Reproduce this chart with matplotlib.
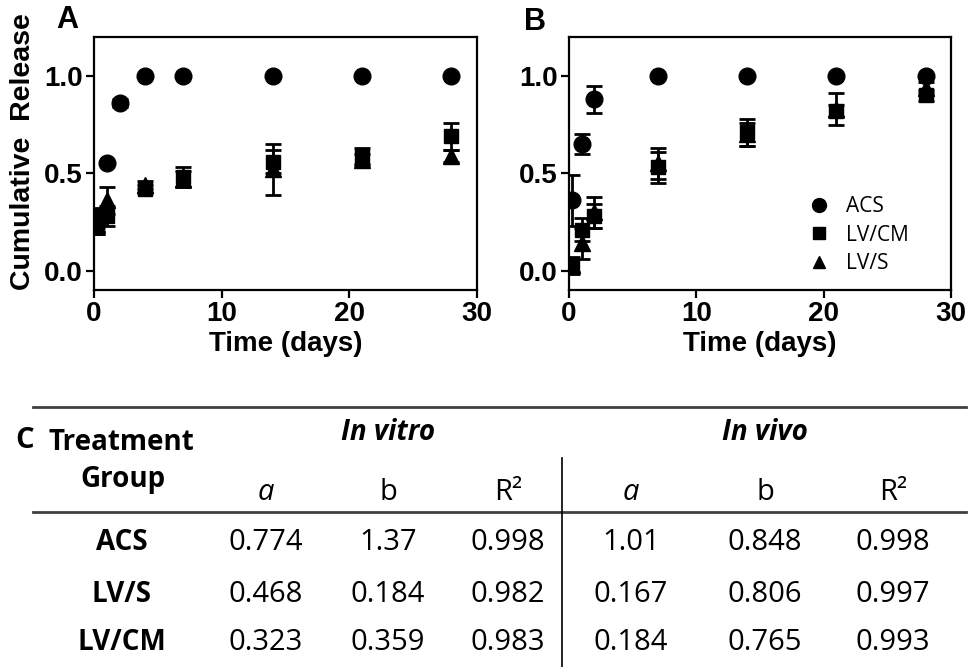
import numpy as np
import matplotlib.pyplot as plt
from matplotlib.lines import Line2D

# panel A (in vitro)
t_a = [0.25, 1, 2, 4, 7, 14, 21, 28]
acs_a = [0.25, 0.55, 0.86, 1.0, 1.0, 1.0, 1.0, 1.0]
acs_a_err = [0.06, 0.0, 0.02, 0.0, 0.0, 0.0, 0.0, 0.0]
lvcm_a = [0.27, 0.28, np.nan, 0.42, 0.48, 0.56, 0.59, 0.69]
lvcm_a_err = [0.05, 0.05, np.nan, 0.02, 0.05, 0.06, 0.04, 0.07]
lvs_a = [0.24, 0.36, np.nan, 0.44, 0.47, 0.52, 0.57, 0.59]
lvs_a_err = [0.05, 0.07, np.nan, 0.02, 0.04, 0.13, 0.03, 0.03]

# panel B (in vivo)
t_b = [0.25, 1, 2, 7, 14, 21, 28]
acs_b = [0.36, 0.65, 0.88, 1.0, 1.0, 1.0, 1.0]
acs_b_err = [0.13, 0.05, 0.07, 0.0, 0.0, 0.0, 0.0]
lvcm_b = [0.02, 0.21, 0.28, 0.53, 0.71, 0.82, 0.90]
lvcm_b_err = [0.04, 0.06, 0.06, 0.08, 0.07, 0.03, 0.03]
lvs_b = [0.03, 0.14, 0.30, 0.55, 0.70, 0.83, 0.94]
lvs_b_err = [0.04, 0.08, 0.08, 0.08, 0.06, 0.08, 0.03]

# table C
groups = ["ACS", "LV/S", "LV/CM"]
vitro_a = ["0.774", "0.468", "0.323"]
vitro_b = ["1.37", "0.184", "0.359"]
vitro_r2 = ["0.998", "0.982", "0.983"]
vivo_a = ["1.01", "0.167", "0.184"]
vivo_b = ["0.848", "0.806", "0.765"]
vivo_r2 = ["0.998", "0.997", "0.993"]

W, H = 969, 667
fig = plt.figure(figsize=(W / 100, H / 100), dpi=100)
plt.rcParams['font.family'] = ['Liberation Sans', 'DejaVu Sans']

def fx(px):
    return px / W

def fy(py):
    return 1 - py / H

def draw_panel(ax, t, series):
    for y, err, marker, ms, label in series:
        ax.errorbar(t, y, yerr=err, fmt='none', ecolor='black', elinewidth=2,
                    capsize=6, capthick=2)
        ax.plot(t, y, linestyle='none', marker=marker, color='black',
                markersize=ms, label=label)
    ax.set_xlim(0, 30)
    ax.set_ylim(-0.1, 1.2)
    ax.set_xticks([0, 10, 20, 30])
    ax.set_yticks([0.0, 0.5, 1.0])
    ax.set_yticklabels(["0.0", "0.5", "1.0"])
    ax.tick_params(width=1.6, length=6, labelsize=20, pad=2)
    for lab in ax.get_xticklabels() + ax.get_yticklabels():
        lab.set_fontweight('bold')
    for s in ax.spines.values():
        s.set_linewidth(1.6)
    ax.set_xlabel("Time (days)", fontsize=20, fontweight='bold', labelpad=3)

ax_a = fig.add_axes([fx(94), fy(290), fx(477 - 94), (290 - 37) / H])
draw_panel(ax_a, t_a, [(acs_a, acs_a_err, 'o', 12, "ACS"),
                       (lvcm_a, lvcm_a_err, 's', 10.5, "LV/CM"),
                       (lvs_a, lvs_a_err, '^', 11, "LV/S")])

ax_b = fig.add_axes([fx(569), fy(290), fx(951 - 569), (290 - 37) / H])
draw_panel(ax_b, t_b, [(acs_b, acs_b_err, 'o', 12, "ACS"),
                       (lvcm_b, lvcm_b_err, 's', 10.5, "LV/CM"),
                       (lvs_b, lvs_b_err, '^', 11, "LV/S")])

handles = [Line2D([], [], linestyle='none', marker='o', color='black', markersize=10),
           Line2D([], [], linestyle='none', marker='s', color='black', markersize=9),
           Line2D([], [], linestyle='none', marker='^', color='black', markersize=9)]
ax_b.legend(handles, ["ACS", "LV/CM", "LV/S"], loc='upper left',
            bbox_to_anchor=(fx(788), fy(186)), bbox_transform=fig.transFigure,
            frameon=False, handletextpad=0.3, labelspacing=0.35, borderpad=0,
            prop={'family': 'Open Sans', 'size': 15})

fig.text(fx(23), fy(152), "Cumulative  Release", rotation=90, ha='center',
         va='center', fontsize=20.5, fontweight='bold')
fig.text(fx(67), fy(20), "A", ha='center', va='center', fontsize=22, fontweight='bold')
fig.text(fx(535), fy(22), "B", ha='center', va='center', fontsize=22, fontweight='bold')

# table
tf = ['Open Sans', 'DejaVu Sans']
fig.add_artist(Line2D([fx(33), fx(966)], [fy(407), fy(407)], color='#404040', lw=2))
fig.add_artist(Line2D([fx(33), fx(966)], [fy(512), fy(512)], color='#404040', lw=2))
fig.add_artist(Line2D([fx(562), fx(562)], [fy(458), fy(667)], color='black', lw=1.2))

fig.text(fx(25), fy(440), "C", ha='center', va='center', fontsize=21,
         fontweight='bold', family=tf)
fig.text(fx(121), fy(442), "Treatment", ha='center', va='center', fontsize=20,
         fontweight='bold', family=tf)
fig.text(fx(123), fy(480), "Group", ha='center', va='center', fontsize=20,
         fontweight='bold', family=tf)
fig.text(fx(388), fy(433), "In vitro", ha='center', va='center', fontsize=20,
         fontweight='bold', style='italic', family=tf)
fig.text(fx(765), fy(433), "In vivo", ha='center', va='center', fontsize=20,
         fontweight='bold', style='italic', family=tf)

col_x = [266, 388, 508, 631, 765, 893]
headers = ["a", "b", "R²", "a", "b", "R²"]
for x, h in zip(col_x, headers):
    fig.text(fx(x), fy(492), h, ha='center', va='center', fontsize=21,
             style='italic' if h == "a" else 'normal', family=tf)

row_y = [542, 594, 643]
cols = [vitro_a, vitro_b, vitro_r2, vivo_a, vivo_b, vivo_r2]
for i, g in enumerate(groups):
    fig.text(fx(122), fy(row_y[i]), g, ha='center', va='center', fontsize=20,
             fontweight='bold', family=tf)
    for x, col in zip(col_x, cols):
        fig.text(fx(x), fy(row_y[i]), col[i], ha='center', va='center',
                 fontsize=21, family=tf)

fig.savefig("out.png", dpi=100)
